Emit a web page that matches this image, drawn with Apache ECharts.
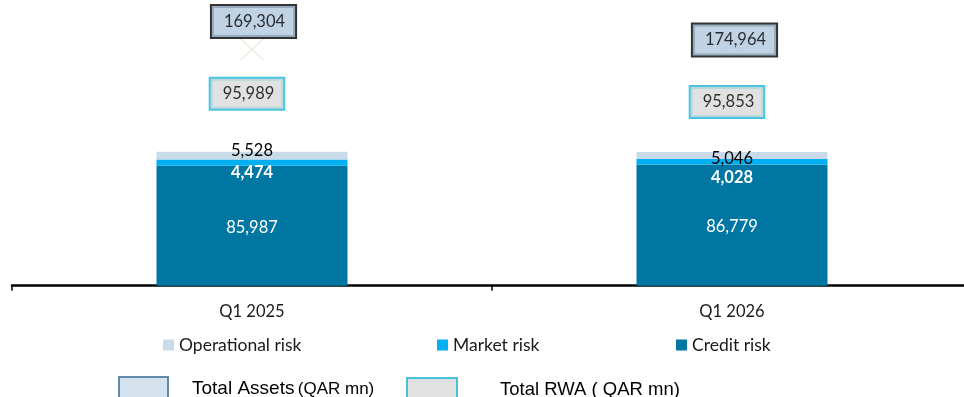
<!DOCTYPE html>
<html>
<head>
<meta charset="utf-8">
<script src="https://cdn.jsdelivr.net/npm/echarts@6/dist/echarts.min.js"></script>
<style>
  html, body { margin: 0; padding: 0; background: #ffffff; }
  #chart { width: 964px; height: 397px; }
</style>
</head>
<body>
<div id="chart"></div>
<script>
// Risk-weighted assets by risk type (QAR mn)
const quarters = ['Q1 2025', 'Q1 2026'];
const creditRisk = [85987, 86779];
const marketRisk = [4474, 4028];
const operationalRisk = [5528, 5046];
const totalRwa = [95989, 95853];
const totalAssets = [169304, 174964];

// Per-quarter label nudges, in pixels
const opLabelShift = [[0, 7.5], [0, 15]];
const mkLabelShift = [[0, -2], [0, 5]];
const assetsBoxShift = [[1.5, -28], [2.5, -1.5]];
const rwaBoxShift = [[-5, -58], [-5, -50]];

const COLORS = {
  credit: '#0076a3',
  market: '#00b0f0',
  operational: '#c9dae8',
  assetsFill: '#afc8df',
  rwaFill: '#d9d9d9',
  rwaBorder: '#1db7da'
};

const numFmt = v => Number(v).toLocaleString('en-US');
const digitFont = { fontFamily: 'Lato', fontSize: 16.5 };
const legendText = { fontFamily: 'Lato', fontSize: 17.5, lineHeight: 22, color: '#1a1a1a' };

const chart = echarts.init(document.getElementById('chart'), null, { renderer: 'canvas' });

const option = {
  animation: false,
  backgroundColor: '#ffffff',
  // the axis runs past the right edge of the canvas
  grid: { left: 12, width: 960, top: 6.6, bottom: 111.3, containLabel: false, outerBoundsMode: 'none' },
  xAxis: {
    type: 'category',
    data: quarters,
    offset: 1.3,
    axisLine: { show: true, lineStyle: { color: '#000000', width: 2.5 } },
    axisTick: { show: true, length: 5, lineStyle: { color: '#000000', width: 1.5 } },
    axisLabel: { margin: 16, color: '#1a1a1a', fontFamily: 'Lato', fontSize: 16.5 },
    splitLine: { show: false }
  },
  yAxis: {
    type: 'value',
    min: 0,
    max: 200000,
    show: false,
    splitLine: { show: false }
  },
  legend: [
    {
      data: ['Operational risk'], left: 163, top: 334, padding: 0, icon: 'rect',
      itemWidth: 11, itemHeight: 11, selectedMode: false, textStyle: legendText
    },
    {
      data: ['Market risk'], left: 437, top: 334, padding: 0, icon: 'rect',
      itemWidth: 11, itemHeight: 11, selectedMode: false, textStyle: legendText
    },
    {
      data: ['Credit risk'], left: 676, top: 334, padding: 0, icon: 'rect',
      itemWidth: 11, itemHeight: 11, selectedMode: false, textStyle: legendText
    },
    {
      data: [{
        name: 'Total Assets',
        itemStyle: { color: '#cadcea', borderColor: '#3e6f99', borderWidth: 2 }
      }],
      left: 118, top: 376, padding: 0, icon: 'rect',
      itemWidth: 49, itemHeight: 24, selectedMode: false,
      formatter: () => '{a|Total Assets} {b|(QAR mn)}',
      textStyle: {
        padding: [0, 0, 0, 19],
        color: '#000000',
        rich: {
          a: { fontFamily: 'Liberation Sans', fontSize: 19, lineHeight: 24, color: '#000000' },
          b: { fontFamily: 'Liberation Sans', fontSize: 17, lineHeight: 24, color: '#000000' }
        }
      }
    },
    {
      data: [{
        name: 'Total RWA',
        itemStyle: { color: '#d9d9d9', borderColor: COLORS.rwaBorder, borderWidth: 2 }
      }],
      left: 406, top: 377, padding: 0, icon: 'rect',
      itemWidth: 50, itemHeight: 24, selectedMode: false,
      formatter: () => 'Total RWA ( QAR mn)',
      textStyle: {
        padding: [0, 0, 0, 38],
        fontFamily: 'Liberation Sans', fontSize: 18.5, lineHeight: 24, color: '#000000'
      }
    }
  ],
  series: [
    {
      name: 'Credit risk',
      type: 'bar',
      stack: 'rwa',
      barWidth: 191,
      data: creditRisk,
      itemStyle: { color: COLORS.credit },
      label: {
        show: true, position: 'inside', offset: [0, 1.5],
        color: '#ffffff', ...digitFont,
        formatter: p => numFmt(p.value)
      },
      emphasis: { disabled: true },
      silent: true
    },
    {
      name: 'Market risk',
      type: 'bar',
      stack: 'rwa',
      barWidth: 191,
      data: marketRisk.map((v, i) => ({ value: v, label: { offset: mkLabelShift[i] } })),
      itemStyle: { color: COLORS.market },
      label: {
        show: true, position: 'bottom', distance: 0,
        color: '#ffffff', fontWeight: 'bold', ...digitFont,
        formatter: p => numFmt(p.value)
      },
      emphasis: { disabled: true },
      silent: true
    },
    {
      name: 'Operational risk',
      type: 'bar',
      stack: 'rwa',
      barWidth: 191,
      data: operationalRisk.map((v, i) => ({ value: v, label: { offset: opLabelShift[i] } })),
      itemStyle: { color: COLORS.operational },
      label: {
        show: true, position: 'top', distance: 0,
        color: '#000000', ...digitFont,
        formatter: p => numFmt(p.value)
      },
      emphasis: { disabled: true },
      silent: true
    },
    {
      name: 'Total RWA',
      type: 'scatter',
      data: totalRwa.map((v, i) => ({ value: v, label: { offset: rwaBoxShift[i] } })),
      symbol: 'circle',
      symbolSize: 1,
      itemStyle: { color: 'rgba(0,0,0,0)' },
      label: {
        show: true, position: 'inside',
        color: '#000000', ...digitFont, lineHeight: 19,
        backgroundColor: COLORS.rwaFill,
        borderColor: COLORS.rwaBorder, borderWidth: 2,
        padding: [6, 9, 5, 12],
        formatter: p => numFmt(p.value)
      },
      emphasis: { disabled: true },
      silent: true,
      z: 5
    },
    {
      name: 'Total Assets',
      type: 'scatter',
      data: totalAssets.map((v, i) => ({ value: v, label: { offset: assetsBoxShift[i] } })),
      symbol: 'path://M0,0L24,22M24,0L0,22',
      symbolSize: [24, 22],
      itemStyle: { color: 'rgba(0,0,0,0)', borderColor: '#e8dccd', borderWidth: 1 },
      label: {
        show: true, position: 'inside',
        color: '#000000', ...digitFont, lineHeight: 19,
        backgroundColor: COLORS.assetsFill,
        borderColor: '#000000', borderWidth: 2,
        padding: [6, 10, 6, 12],
        formatter: p => numFmt(p.value)
      },
      emphasis: { disabled: true },
      silent: true,
      z: 5
    }
  ]
};

chart.setOption(option);
</script>
</body>
</html>
